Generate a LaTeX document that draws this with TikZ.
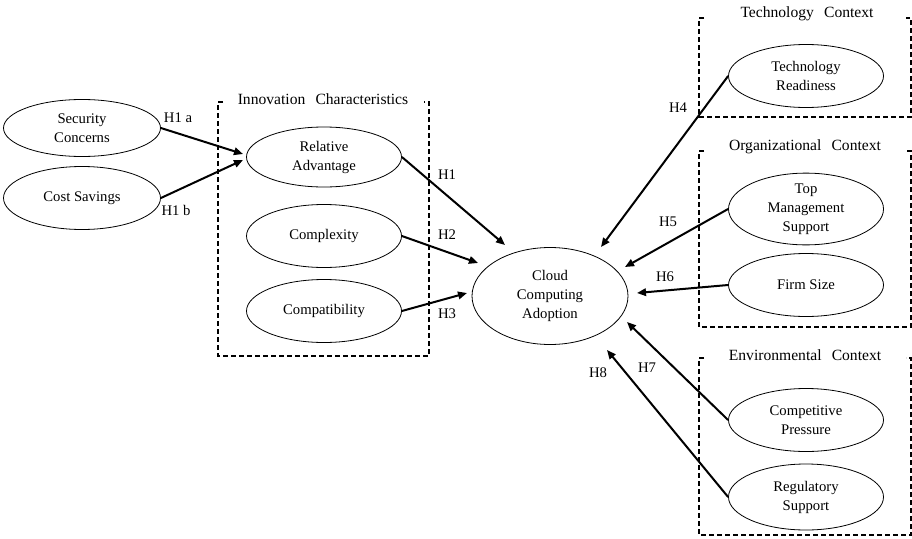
\documentclass[tikz,border=0pt]{standalone}
\usepackage{fontspec}
\setmainfont{Liberation Serif}
\usetikzlibrary{shapes.geometric,arrows.meta}
\begin{document}
\begin{tikzpicture}[x=1pt,y=-1pt,
  font=\fontsize{14.7}{19}\selectfont,
  construct/.style={draw,ellipse,line width=0.8pt,inner sep=0pt,align=center,
    minimum width=155pt,minimum height=63pt},
  arr/.style={line width=2pt,-{Triangle[length=9pt,width=7.5pt]}},
  grp/.style={line width=1.8pt,dash pattern=on 5pt off 3pt},
  grptitle/.style={font=\fontsize{15.6}{19}\selectfont},
  hyp/.style={inner sep=1pt}]
\useasboundingbox (0,0) rectangle (912,538);

% left-hand antecedents
\node[construct,minimum width=157pt,minimum height=57pt] (sec) at (82,128) {Security\\Concerns};
\node[construct,minimum width=157pt] (cost) at (82,198) {Cost Savings};

% innovation characteristics group
\node[construct,minimum height=60pt] (rel) at (324,157) {Relative\\Advantage};
\node[construct] (cplx) at (324,236) {Complexity};
\node[construct] (cpat) at (324,311) {Compatibility};
\draw[grp] (223,102) -- (218,102) -- (218,356) -- (429,356) -- (429,102) -- (424,102);
\node[grptitle] (innov) at (323,99) {Innovation\hspace{0.4em} Characteristics};

% dependent construct
\node[construct,minimum width=156pt,minimum height=97pt] (cloud) at (550,296) {Cloud\\Computing\\Adoption};

% technology context
\node[construct] (tech) at (806,76) {Technology\\Readiness};
\draw[grp] (704,18) -- (699,18) -- (699,117) -- (911,117) -- (911,18) -- (906,18);
\node[grptitle] (techlbl) at (807,14) {Technology\hspace{0.4em} Context};

% organizational context
\node[construct] (top) at (806,209) {Top\\Management\\Support};
\node[construct] (firm) at (806,285) {Firm Size};
\draw[grp] (704,151) -- (699,151) -- (699,327) -- (911,327) -- (911,151) -- (906,151);
\node[grptitle] (orglbl) at (805,147) {Organizational\hspace{0.4em} Context};

% environmental context
\node[construct] (comp) at (806,420) {Competitive\\Pressure};
\node[construct,minimum height=66pt] (reg) at (806,497) {Regulatory\\Support};
\draw[grp] (704,358) -- (699,358) -- (699,535) -- (911,535) -- (911,358) -- (906,358);
\node[grptitle] (envlbl) at (805,355) {Environmental\hspace{0.4em} Context};

% arrow tips
\coordinate (tA) at (243,154);
\coordinate (tB) at (243,160);
\coordinate (t1) at (505,245);
\coordinate (t2) at (478,263);
\coordinate (t3) at (467,293);
\coordinate (t4) at (601,247);
\coordinate (t5) at (625,267);
\coordinate (t6) at (637,293);
\coordinate (t7) at (627,322);
\coordinate (t8) at (607,350);

% hypotheses
\draw[arr] (sec.east) -- (tA);
\draw[arr] (cost.east) -- (tB);
\draw[arr] (rel.east) -- (t1);
\draw[arr] (cplx.east) -- (t2);
\draw[arr] (cpat.east) -- (t3);
\draw[arr] (tech.west) -- (t4);
\draw[arr] (top.west) -- (t5);
\draw[arr] (firm.west) -- (t6);
\draw[arr] (comp.west) -- (t7);
\draw[arr] (reg.west) -- (t8);

\node[hyp] (h1a) at (178,118) {H1 a};
\node[hyp] (h1b) at (176,210) {H1 b};
\node[hyp] (h1) at (447,175) {H1};
\node[hyp] (h2) at (447,235) {H2};
\node[hyp] (h3) at (447,314) {H3};
\node[hyp] (h4) at (678,108) {H4};
\node[hyp] (h5) at (668,222) {H5};
\node[hyp] (h6) at (665,277) {H6};
\node[hyp] (h7) at (647,368) {H7};
\node[hyp] (h8) at (598,373) {H8};
\end{tikzpicture}
\end{document}
